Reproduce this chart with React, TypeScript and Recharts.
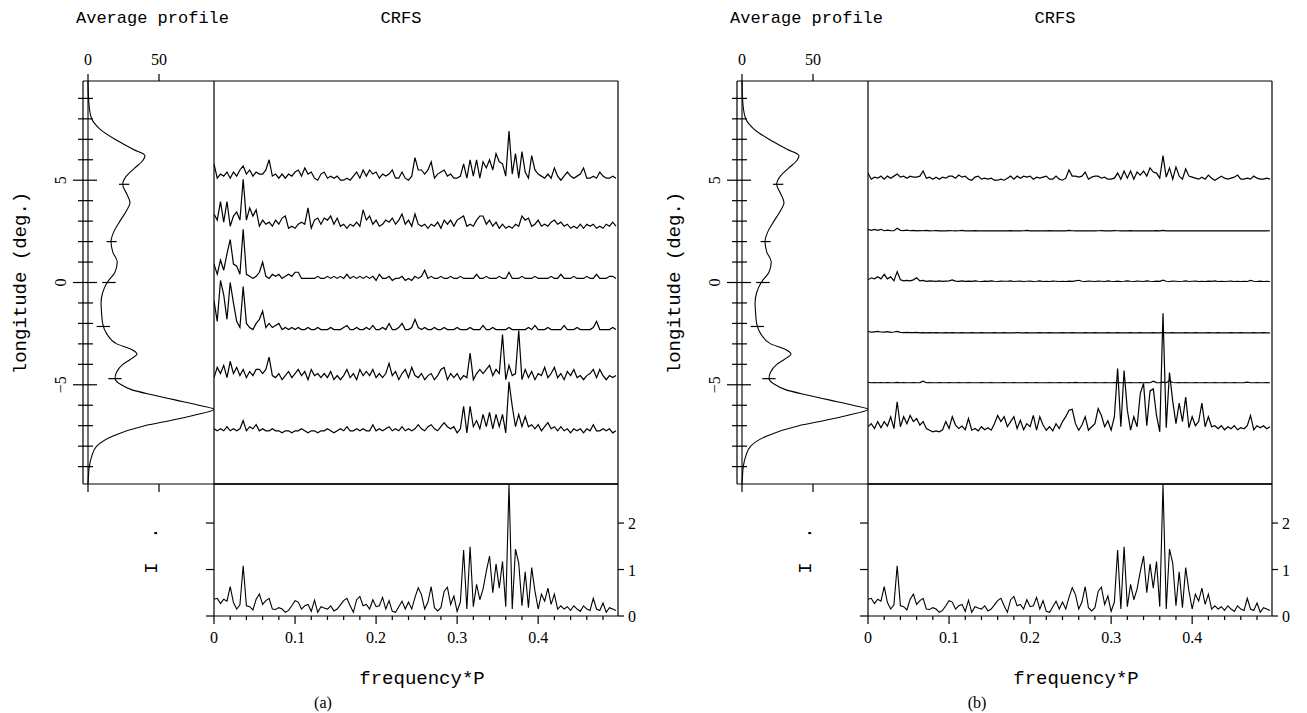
import React from 'react';
import { ComposedChart, LineChart, Line, XAxis, YAxis, ReferenceLine } from 'recharts';

// ---------- axes / scales ----------
const FREQ_STEP = 0.004;
const FREQ_MAX = 0.4985;
const LON_DOMAIN: [number, number] = [-9.85, 9.85];
const PROFILE_DOMAIN: [number, number] = [-3.52, 88.73];
const I_DOMAIN: [number, number] = [0, 2.84];
const TRACE_UNIT = 0.1; // trace values are in tenths of a degree
const I_UNIT = 0.01;

const LON_TICKS = [-9, -8, -7, -6, -5, -4, -3, -2, -1, 0, 1, 2, 3, 4, 5, 6, 7, 8, 9];
const PROFILE_TICKS = [0, 50];
const FREQ_TICKS = [0, 0.02, 0.04, 0.06, 0.08, 0.1, 0.12, 0.14, 0.16, 0.18, 0.2, 0.22, 0.24, 0.26, 0.28, 0.3, 0.32, 0.34, 0.36, 0.38, 0.4, 0.42, 0.44, 0.46, 0.48];
const I_TICKS = [0, 1, 2];

// ---------- average profile ----------
const PROFILE_LON = [-9.85, -9.5, -9, -8.5, -8, -7.5, -7, -6.75, -6.5, -6.2, -6, -5.75, -5.5, -5.25, -5, -4.7, -4.4, -4, -3.75, -3.5, -3.25, -3, -2.5, -2, -1.5, -1, -0.5, 0, 0.5, 1, 1.5, 2, 2.5, 3, 3.5, 3.9, 4.3, 4.8, 5.2, 5.6, 6, 6.2, 6.5, 7, 7.5, 8, 8.5, 9, 9.85];
const PROFILE_VAL = [0, 0.3, 0.9, 2.6, 6.1, 17.6, 40, 58, 74, 88.7, 78, 62, 45.8, 31, 23.5, 19, 20, 24.5, 30, 34.5, 30, 20.2, 13.1, 10.3, 9.6, 9.2, 10.3, 13.5, 19, 20.6, 17.4, 16.2, 18.3, 22.5, 27, 29.6, 27.5, 24.4, 27, 33, 39, 40.1, 32, 19, 8.4, 2.6, 1, 0.4, 0];
const MARK_LON = [4.8, 2.0, 0, -2.15, -4.7];
const MARK_LO = [21.8, 13.1, 10, 6.1, 14.3];
const MARK_HI = [29.1, 20.2, 19.5, 15.5, 23.7];

// ---------- CRFS traces, panel (a) ----------
const OFFSETS_A = [5.0, 2.55, 0.1, -2.4, -4.85, -7.35];
const A1 = [8,1,3,2,4,1,4,2,5,7, 3,5,2,4,3,3,5,10,2,3, 1,3,1,3,2,4,5,2,6,3, 4,1,0,3,4,1,2,1,2,0, 0,1,0,2,4,1,5,2,5,3, 4,1,3,2,3,5,1,1,4,1, 0,2,11,5,5,3,5,9,1,3, 4,5,2,3,1,1,2,8,1,10, 2,10,1,9,6,10,5,13,9,8, 2,24,3,13,1,14,4,1,12,5, 3,2,1,3,1,6,2,0,2,4, 2,1,2,3,6,1,1,2,1,4, 2,1,1,2,1];
const A2 = [8,5,14,4,14,2,7,9,5,25, 5,11,7,10,2,5,3,4,2,5, 3,6,7,1,2,1,3,4,3,11, 1,5,6,3,6,5,7,3,6,2, 3,1,3,2,4,2,10,5,7,3, 5,2,3,5,4,6,3,5,8,3, 5,2,8,3,2,3,1,3,2,4, 1,5,3,5,2,5,6,7,2,3, 2,5,7,7,3,5,2,4,1,3, 1,2,1,3,2,7,5,6,2,3, 5,2,3,2,4,5,3,4,2,3, 1,2,1,3,1,3,2,3,1,2, 1,3,2,4,2];
const A3 = [8,3,10,5,13,20,8,7,3,25, 3,2,1,2,4,9,2,1,3,2, 3,1,2,3,2,4,4,1,1,1, 1,1,2,1,1,2,1,2,1,2, 1,3,1,2,1,2,1,2,1,2, 0,3,1,1,2,0,1,1,2,0, 1,0,2,1,2,5,1,2,1,1, 2,1,1,2,1,1,2,1,1,1, 1,3,1,1,2,1,1,1,2,1, 1,4,1,1,1,2,1,1,1,2, 1,1,1,1,2,1,1,3,1,1, 1,2,1,1,1,2,1,1,3,1, 1,1,2,2,1];
const A4 = [15,5,25,18,6,24,14,5,2,22, 4,2,1,4,6,10,2,4,2,3, 4,1,2,1,2,1,2,1,1,2, 1,1,2,1,1,1,2,1,1,1, 2,3,1,1,2,1,1,2,1,3, 1,1,2,1,4,1,1,2,4,1, 1,2,6,2,1,2,1,1,2,1, 1,2,1,1,1,2,1,1,1,2, 1,1,1,3,1,1,2,1,1,1, 1,2,1,1,1,1,1,2,1,3, 1,1,1,2,1,1,1,1,3,1, 1,1,2,1,1,1,1,2,5,1, 1,1,1,2,1];
const A5 = [2,7,4,8,2,10,4,7,3,6, 2,5,3,6,6,4,6,12,3,2, 4,1,3,5,2,4,6,3,5,1, 6,3,4,2,4,2,5,1,3,1, 3,6,2,4,1,6,3,5,3,6, 2,4,2,4,9,3,5,1,4,6, 2,7,3,2,4,1,3,4,1,3, 6,7,1,4,2,4,1,3,2,14, 1,4,6,4,6,8,3,6,4,23, 1,8,3,4,25,1,6,2,5,1, 4,3,7,2,4,7,2,4,1,5, 3,6,2,3,1,3,4,6,2,6, 3,1,3,2,3];
const A6 = [2,1,2,1,3,1,2,1,2,6, 1,3,2,4,1,2,1,1,2,1, 1,0,1,1,0,1,1,2,1,0, 1,1,0,1,1,2,1,0,1,2, 1,3,1,1,2,1,2,1,1,4, 1,2,1,2,3,1,2,1,3,1, 2,1,2,4,2,1,3,4,2,1, 3,5,3,2,3,0,2,13,0,13, 3,6,2,9,3,10,2,9,3,9, 0,25,13,3,9,3,8,3,4,2, 4,1,3,5,2,3,1,3,1,2, 0,2,1,2,0,2,1,4,1,1, 2,1,2,0,1];

// ---------- CRFS traces, panel (b) ----------
const OFFSETS_B = [5.0, 2.5, 0.03, -2.47, -4.92, -7.3];
const B1 = [3.5,0.5,1.5,1,2,0.5,2,1,2,3, 1.5,2,1,2,1.5,1.5,2,4.5,1,1.5, 0.5,1.5,0.5,1.5,1,2,2,1,2.5,1.5, 2,0.5,0,1.5,2,0.5,1,0.5,1,0, 0,0.5,0,1,2,0.5,2,1,2,1.5, 2,0.5,1.5,1,1.5,2,0.5,0.5,2,0.5, 0,1,5,2,2,1.5,2,4,0.5,1.5, 2,2,1,1.5,0.5,0.5,1,3.5,0.5,4.5, 1,4.5,0.5,4,2.5,4.5,2,6,4,3.5, 1,12,1.5,6,0.5,6.5,2,0.5,5.5,2, 1.5,1,0.5,1.5,0.5,2.5,1,0,1,2, 1,0.5,1,1.5,2.5,0.5,0.5,1,0.5,2, 1,0.5,0.5,1,0.5];
const B2 = [1,0.5,1,0.5,1,0.3,0.6,0.4,0.3,1.5, 0.5,0.4,0.6,0.3,0.5,0.2,0.4,0.3,0.5,0.2, 0.3,0.4,0.2,0.3,0.2,0.4,0.3,0.2,0.3,0.5, 0.2,0.3,0.2,0.4,0.2,0.3,0.2,0.3,0.2,0.2, 0.3,0.2,0.3,0.2,0.4,0.2,0.3,0.2,0.3,0.5, 0.2,0.3,0.2,0.2,0.3,0.2,0.4,0.2,0.3,0.2, 0.3,0.2,0.5,0.3,0.2,0.3,0.2,0.3,0.2,0.3, 0.2,0.3,0.4,0.2,0.3,0.2,0.4,0.3,0.2,0.3, 0.2,0.4,0.2,0.3,0.2,0.3,0.2,0.3,0.2,0.4, 0.2,0.5,0.2,0.3,0.2,0.3,0.2,0.3,0.2,0.2, 0.3,0.2,0.3,0.2,0.2,0.3,0.2,0.3,0.2,0.2, 0.3,0.2,0.2,0.3,0.2,0.2,0.3,0.2,0.3,0.2, 0.2,0.3,0.2,0.2,0.3];
const B3 = [1,2,1.5,2.5,1.5,3.7,1.5,2.5,0.5,5, 1,0.5,0.7,0.5,1,2,0.5,0.7,0.3,0.5, 0.4,0.3,0.5,0.3,0.4,0.5,1,0.4,0.3,0.5, 0.3,0.4,0.3,0.5,0.3,0.2,0.4,0.3,0.5,0.3, 0.2,0.4,0.3,0.3,0.5,0.2,0.3,0.4,0.2,0.3, 0.4,0.2,0.3,0.5,0.2,0.3,0.2,0.4,0.3,0.2, 0.3,0.2,0.4,0.3,0.5,0.8,0.3,0.2,0.4,0.3, 0.2,0.4,0.3,0.2,0.5,0.3,0.2,0.4,0.2,0.3, 0.5,0.3,0.2,0.4,0.3,0.2,0.5,0.3,0.2,0.4, 0.3,0.8,0.3,0.2,0.4,0.3,0.2,0.3,0.5,0.2, 0.3,0.4,0.2,0.3,0.2,0.4,0.3,0.5,0.2,0.3, 0.2,0.3,0.4,0.2,0.3,0.2,0.3,0.2,0.7,0.3, 0.2,0.4,0.2,0.3,0.2];
const B4 = [0.8,0.4,0.6,0.8,0.5,0.4,0.7,0.3,0.5,0.8, 0.3,0.2,0.3,0.2,0.2,0.3,0.1,0.2,0.1,0.2, 0.1,0.2,0.1,0.1,0.2,0.1,0.2,0.1,0.1,0.2, 0.1,0.1,0.2,0.1,0.1,0.2,0.1,0.1,0.1,0.2, 0.1,0.1,0.2,0.1,0.1,0.1,0.2,0.1,0.1,0.2, 0.1,0.1,0.1,0.2,0.1,0.1,0.2,0.1,0.1,0.1, 0.2,0.1,0.1,0.2,0.1,0.1,0.1,0.2,0.1,0.1, 0.2,0.1,0.1,0.1,0.2,0.1,0.1,0.2,0.1,0.1, 0.1,0.2,0.1,0.1,0.2,0.1,0.1,0.1,0.2,0.1, 0.1,0.3,0.1,0.1,0.2,0.1,0.1,0.1,0.2,0.1, 0.1,0.2,0.1,0.1,0.1,0.2,0.1,0.1,0.2,0.1, 0.1,0.1,0.2,0.1,0.1,0.2,0.1,0.1,0.1,0.2, 0.1,0.1,0.2,0.1,0.1];
const B5 = [0.4,0.2,0.3,0.2,0.3,0.2,0.3,0.2,0.2,0.4, 0.2,0.3,0.2,0.2,0.3,0.2,0.3,1,0.2,0.3, 0.2,0.2,0.3,0.2,0.2,0.3,0.2,0.2,0.3,0.2, 0.2,0.3,0.2,0.2,0.2,0.3,0.2,0.2,0.3,0.2, 0.2,0.2,0.3,0.2,0.2,0.3,0.2,0.2,0.2,0.3, 0.2,0.2,0.3,0.2,0.2,0.2,0.3,0.2,0.2,0.3, 0.2,0.2,0.3,0.2,0.4,0.2,0.2,0.3,0.2,0.2, 0.3,0.2,0.2,0.3,0.2,0.2,0.3,0.4,0.2,0.3, 0.2,0.3,0.2,0.2,0.3,0.2,0.3,0.2,1,0.3, 0.2,0.5,0.2,1.2,0.3,0.2,0.3,0.2,0.3,0.2, 0.2,0.3,0.2,0.2,0.3,0.2,0.2,0.3,0.2,0.2, 0.3,0.2,0.2,0.3,0.2,0.2,0.3,0.5,0.2,0.2, 0.3,0.2,0.2,0.3,0.2];
const B6 = [2.5,4,1.6,5,2,5,2.8,7.4,1.6,14.7, 2.5,7.4,4,8,5,6.5,3.3,5,1.6,0.8, 0,0.5,0,1,5,1.6,7.4,3.3,1.6,2.8, 1,6.5,0.8,1.6,0.5,2.5,1,2,0.8,4, 8,5,7.4,2.5,5,7.4,1.6,5.7,1,4, 2.5,8,0.8,7.4,3.3,0.8,2.5,0.5,4,1.6, 5,7.4,10.6,11,4,0.8,3.3,7.4,0.8,2.5, 4,11.4,8,2.5,5.4,0.8,7.4,31,2.5,30, 10.6,0.8,7.4,2.5,18.8,23.7,3,20,21,8, 0,58,2,29,15,4,14,5,17,2, 7.4,3,5,14,2.5,7.4,2.5,3,1.5,3, 1,2.5,1.5,3,1,2,1.5,3,8,1, 3,2,3,1.5,2.5];

// ---------- integrated spectrum (same in both panels) ----------
const INTENSITY = [36,38,27,36,32,63,29,15,24,108, 22,20,13,36,47,25,33,38,15,14, 18,15,8,12,22,33,30,15,22,25, 10,34,8,20,17,15,22,11,15,24, 33,38,22,8,35,42,22,25,15,35, 20,22,40,15,33,10,8,20,32,15, 30,15,40,61,46,15,30,63,18,11, 18,53,62,25,43,10,30,142,15,149, 20,68,35,58,96,129,50,112,60,117, 20,283,15,144,114,22,95,18,104,54, 15,47,32,60,25,47,15,22,15,20, 12,22,15,10,22,15,12,38,15,12, 28,8,18,15,12];

// ---------- derived tables ----------
const FREQS = INTENSITY.map((_, i) => Number((i * FREQ_STEP).toFixed(3)));
const PROFILE_DATA = PROFILE_LON.map((lon, i) => ({ lon, val: PROFILE_VAL[i] }));
const I_DATA = INTENSITY.map((v, i) => ({ f: FREQS[i], v: v * I_UNIT }));
const toTrace = (vals: number[], base: number) => vals.map((v, i) => ({ f: FREQS[i], y: base + v * TRACE_UNIT }));
const TRACES_A = [A1, A2, A3, A4, A5, A6].map((t, k) => toTrace(t, OFFSETS_A[k]));
const TRACES_B = [B1, B2, B3, B4, B5, B6].map((t, k) => toTrace(t, OFFSETS_B[k]));

const MONO = "'Liberation Mono', 'DejaVu Sans Mono', monospace";
const SERIF = "'Liberation Serif', 'DejaVu Serif', serif";
const INK = '#000';
const AX = { stroke: INK, strokeWidth: 1.2 };

const fmtNum = (v: number) => (v < 0 ? '\u2212' + Math.abs(v) : String(v));

function LonTick(props: any) {
  const { x, y, payload } = props;
  const v = payload.value;
  const major = v % 5 === 0;
  return (
    <g>
      <line x1={major ? x - 10 : x - 5} x2={major ? x + 14 : x + 10} y1={y} y2={y} stroke={INK} strokeWidth={1.2} />
      {major && (
        <text x={x - 17} y={y} transform={`rotate(-90 ${x - 17} ${y})`} textAnchor="middle" fontFamily={SERIF} fontSize={16} fill={INK}>
          {fmtNum(v)}
        </text>
      )}
    </g>
  );
}

function ProfTopTick(props: any) {
  const { x, y, payload } = props;
  return (
    <g>
      <line x1={x} x2={x} y1={y - 7} y2={y} stroke={INK} strokeWidth={1.2} />
      <text x={x} y={y - 16} textAnchor="middle" fontFamily={SERIF} fontSize={16} fill={INK}>{payload.value}</text>
    </g>
  );
}

function ProfBottomTick(props: any) {
  const { x, y } = props;
  return <line x1={x} x2={x} y1={y} y2={y + 8} stroke={INK} strokeWidth={1.2} />;
}

function FreqTick(props: any) {
  const { x, y, payload } = props;
  const v = payload.value;
  const major = Math.round(v * 100) % 10 === 0;
  return (
    <g>
      <line x1={x} x2={x} y1={y} y2={y + (major ? 8 : 4)} stroke={INK} strokeWidth={1.2} />
      {major && (
        <text x={x} y={y + 27} textAnchor="middle" fontFamily={SERIF} fontSize={16} fill={INK}>
          {v === 0 ? '0' : v.toFixed(1)}
        </text>
      )}
    </g>
  );
}

function ILeftTick(props: any) {
  const { x, y } = props;
  return <line x1={x - 8} x2={x} y1={y} y2={y} stroke={INK} strokeWidth={1.2} />;
}

function IRightTick(props: any) {
  const { x, y, payload } = props;
  return (
    <g>
      <line x1={x} x2={x + 6} y1={y} y2={y} stroke={INK} strokeWidth={1.2} />
      <text x={x + 10} y={y + 6} textAnchor="start" fontFamily={SERIF} fontSize={16} fill={INK}>{payload.value}</text>
    </g>
  );
}

function Panel({ dx, traces, tag }: { dx: number; traces: { f: number; y: number }[][]; tag: string }) {
  return (
    <>
      {/* average profile */}
      <div style={{ position: 'absolute', left: dx, top: 0 }}>
        <ComposedChart width={214} height={500} layout="vertical" data={PROFILE_DATA} margin={{ top: 0, right: 0, bottom: 0, left: 0 }}>
          <XAxis xAxisId="t" orientation="top" type="number" domain={PROFILE_DOMAIN} allowDataOverflow height={81}
            ticks={PROFILE_TICKS} interval={0} tickSize={0} tickMargin={0} tickLine={false} axisLine={AX} tick={<ProfTopTick />} />
          <XAxis xAxisId="b" orientation="bottom" type="number" domain={PROFILE_DOMAIN} allowDataOverflow height={16}
            ticks={PROFILE_TICKS} interval={0} tickSize={0} tickMargin={0} tickLine={false} axisLine={AX} tick={<ProfBottomTick />} />
          <YAxis type="number" dataKey="lon" domain={LON_DOMAIN} allowDataOverflow width={83} reversed
            ticks={LON_TICKS} interval={0} tickSize={0} tickMargin={0} tickLine={false} axisLine={AX} tick={<LonTick />} />
          <ReferenceLine xAxisId="t" x={0} stroke={INK} strokeWidth={1.1} />
          {MARK_LON.map((lon, i) => (
            <ReferenceLine key={i} xAxisId="t" segment={[{ x: MARK_LO[i], y: lon }, { x: MARK_HI[i], y: lon }]} stroke={INK} strokeWidth={1.2} />
          ))}
          <Line xAxisId="t" dataKey="val" type="monotone" stroke={INK} strokeWidth={1.1} dot={false} isAnimationActive={false} />
        </ComposedChart>
      </div>

      {/* CRFS */}
      <div style={{ position: 'absolute', left: dx + 212, top: 79 }}>
        <LineChart width={408} height={407} margin={{ top: 1, right: 1, bottom: 2, left: 1 }}>
          <XAxis orientation="top" type="number" dataKey="f" domain={[0, FREQ_MAX]} allowDataOverflow height={1}
            tick={false} tickLine={false} axisLine={AX} />
          <YAxis yAxisId="l" type="number" domain={LON_DOMAIN} allowDataOverflow width={1} tick={false} tickLine={false} axisLine={AX} />
          <YAxis yAxisId="r" orientation="right" type="number" domain={LON_DOMAIN} allowDataOverflow width={1} tick={false} tickLine={false} axisLine={AX} />
          <ReferenceLine yAxisId="l" y={LON_DOMAIN[0]} stroke={INK} strokeWidth={1.2} />
          {traces.map((d, k) => (
            <Line key={k} yAxisId="l" data={d} dataKey="y" type="linear" stroke={INK} strokeWidth={1.2} dot={false} isAnimationActive={false} />
          ))}
        </LineChart>
      </div>

      {/* integrated spectrum */}
      <div style={{ position: 'absolute', left: dx + 204, top: 482 }}>
        <LineChart width={456} height={190} data={I_DATA} margin={{ top: 1, right: 0, bottom: 0, left: 0 }}>
          <XAxis xAxisId="t" orientation="top" type="number" dataKey="f" domain={[0, FREQ_MAX]} allowDataOverflow height={1}
            tick={false} tickLine={false} axisLine={AX} />
          <XAxis xAxisId="b" orientation="bottom" type="number" dataKey="f" domain={[0, FREQ_MAX]} allowDataOverflow height={56}
            ticks={FREQ_TICKS} interval={0} tickSize={0} tickMargin={0} tickLine={false} axisLine={AX} tick={<FreqTick />} />
          <YAxis yAxisId="l" type="number" domain={I_DOMAIN} allowDataOverflow width={10}
            ticks={I_TICKS} interval={0} tickSize={0} tickMargin={0} tickLine={false} axisLine={AX} tick={<ILeftTick />} />
          <YAxis yAxisId="r" orientation="right" type="number" domain={I_DOMAIN} allowDataOverflow width={42}
            ticks={I_TICKS} interval={0} tickSize={0} tickMargin={0} tickLine={false} axisLine={AX} tick={<IRightTick />} />
          <ReferenceLine xAxisId="b" yAxisId="l" y={I_DOMAIN[1]} stroke={INK} strokeWidth={1.2} />
          <Line xAxisId="b" yAxisId="l" dataKey="v" type="linear" stroke={INK} strokeWidth={1.1} dot={false} isAnimationActive={false} />
        </LineChart>
      </div>

      {/* titles and axis labels */}
      <svg width={660} height={713} style={{ position: 'absolute', left: dx, top: 0, pointerEvents: 'none', overflow: 'visible' }}>
        <text x={76} y={23} fontFamily={MONO} fontSize={17} fill={INK}>Average profile</text>
        <text x={401} y={23} fontFamily={MONO} fontSize={17} fill={INK} textAnchor="middle">CRFS</text>
        <text x={26} y={283} transform="rotate(-90 26 283)" fontFamily={MONO} fontSize={19} fill={INK} textAnchor="middle">longitude (deg.)</text>
        <text x={157} y={568} transform="rotate(-90 157 568)" fontFamily={MONO} fontSize={19} fill={INK} textAnchor="middle">I</text>
        <text x={157} y={533} transform="rotate(-90 157 533)" fontFamily={MONO} fontSize={19} fill={INK} textAnchor="middle">.</text>
        <text x={422} y={684} fontFamily={MONO} fontSize={19} fill={INK} textAnchor="middle">frequency*P</text>
        <text x={323} y={708} fontFamily={SERIF} fontSize={16} fill={INK} textAnchor="middle">{tag}</text>
      </svg>
    </>
  );
}

export default function App() {
  return (
    <div style={{ position: 'relative', width: 1307, height: 713, background: '#fff', overflow: 'hidden' }}>
      <style>{'body{margin:0;background:#fff}'}</style>
      <Panel dx={0} traces={TRACES_A} tag="(a)" />
      <Panel dx={654} traces={TRACES_B} tag="(b)" />
    </div>
  );
}
